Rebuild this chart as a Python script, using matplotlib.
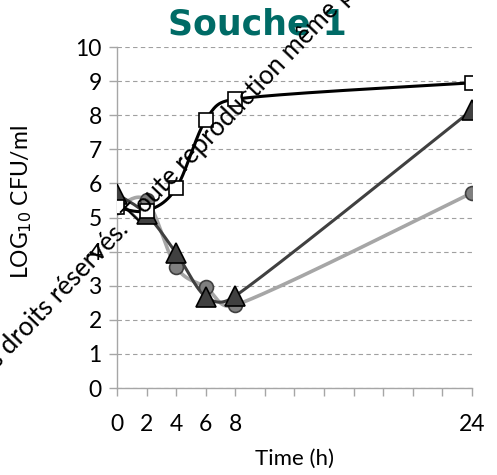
import matplotlib
matplotlib.use("Agg")
import matplotlib.pyplot as plt
import numpy as np

# data
hours = [0, 2, 4, 6, 8, 24]
squares = [5.3, 5.2, 5.86, 7.86, 8.47, 8.95]
triangles = [5.69, 5.09, 3.96, 2.68, 2.7, 8.15]
circles = [5.3, 5.5, 3.55, 2.96, 2.43, 5.72]

x_ticks = list(range(0, 25, 2))
x_labels = ["0", "2", "4", "6", "8"] + [""] * 7 + ["24"]
y_ticks = list(range(0, 11))

FONT = "Lato"


def smooth(xs, ys, sx, sy, n=40):
    # smoothed line like Excel's: Catmull-Rom handles, clamped to half the segment
    p = np.column_stack([np.asarray(xs, float) * sx, np.asarray(ys, float) * sy])
    p = np.vstack([p[0], p, p[-1]])
    t = np.linspace(0, 1, n)[:, None]
    out = []
    for i in range(1, len(p) - 2):
        p0, p1, p2, p3 = p[i - 1], p[i], p[i + 1], p[i + 2]
        seg_len = np.linalg.norm(p2 - p1)
        h1 = (p2 - p0) / 6
        h2 = (p3 - p1) / 6
        for h in (h1, h2):
            hl = np.linalg.norm(h)
            if hl > 0.5 * seg_len:
                h *= 0.5 * seg_len / hl
        c1 = p1 + h1
        c2 = p2 - h2
        seg = ((1 - t) ** 3) * p1 + 3 * ((1 - t) ** 2) * t * c1 + 3 * (1 - t) * t ** 2 * c2 + t ** 3 * p2
        out.append(seg)
    out = np.vstack(out)
    return out[:, 0] / sx, out[:, 1] / sy


fig = plt.figure(figsize=(4.97, 4.75), dpi=100)
ax = fig.add_axes([0.2354, 0.183, 0.714, 0.718])

sx, sy = 355 / 24, 34.1
series = [
    (circles, "o", "#7f7f7f", "#a6a6a6", "#404040", 10, 2.6),
    (triangles, "^", "#404040", "#404040", "#000000", 14, 2.2),
    (squares, "s", "white", "#000000", "#000000", 9.5, 2.2),
]
for ys, mk, face, line, edge, ms, lw in series:
    cx, cy = smooth(hours, ys, sx, sy)
    ax.plot(cx, cy, color=line, lw=lw, zorder=3, solid_capstyle="round")
    ax.plot(hours, ys, ls="none", marker=mk, ms=ms, mfc=face, mec=edge, mew=1.2, zorder=4)

ax.set_xlim(0, 24)
ax.set_ylim(0, 10)
ax.set_xticks(x_ticks)
ax.set_xticklabels(x_labels)
ax.set_yticks(y_ticks)
ax.yaxis.grid(True, ls=(0, (4, 3)), color="#a0a0a0", lw=0.8)
ax.set_axisbelow(True)
for side in ("top", "right"):
    ax.spines[side].set_visible(False)
for side in ("left", "bottom"):
    ax.spines[side].set_color("#a6a6a6")
    ax.spines[side].set_linewidth(1.0)
ax.tick_params(axis="both", direction="out", length=6, color="#a6a6a6", width=1.0,
               labelsize=16.5, pad=5)
ax.tick_params(axis="x", pad=13)
for lab in ax.get_xticklabels() + ax.get_yticklabels():
    lab.set_family(FONT)

ax.set_xlabel("Time (h)", fontsize=16, family=FONT, labelpad=10)
ax.set_ylabel("LOG$_{10}$ CFU/ml", fontsize=16.5, family=FONT)
ax.yaxis.set_label_coords(-0.235, 0.545)

fig.text(0.518, 0.948, "Souche 1", ha="center", va="center", fontsize=25,
         fontweight="bold", color="#006b66", family="DejaVu Sans")

fig.text(-0.066, 0.156, "Tous droits réservés. Toute reproduction même partielle",
         rotation=46.3, rotation_mode="anchor", ha="left", va="baseline",
         fontsize=18.5, family=FONT, color="black")

fig.savefig("out.png", dpi=100)
